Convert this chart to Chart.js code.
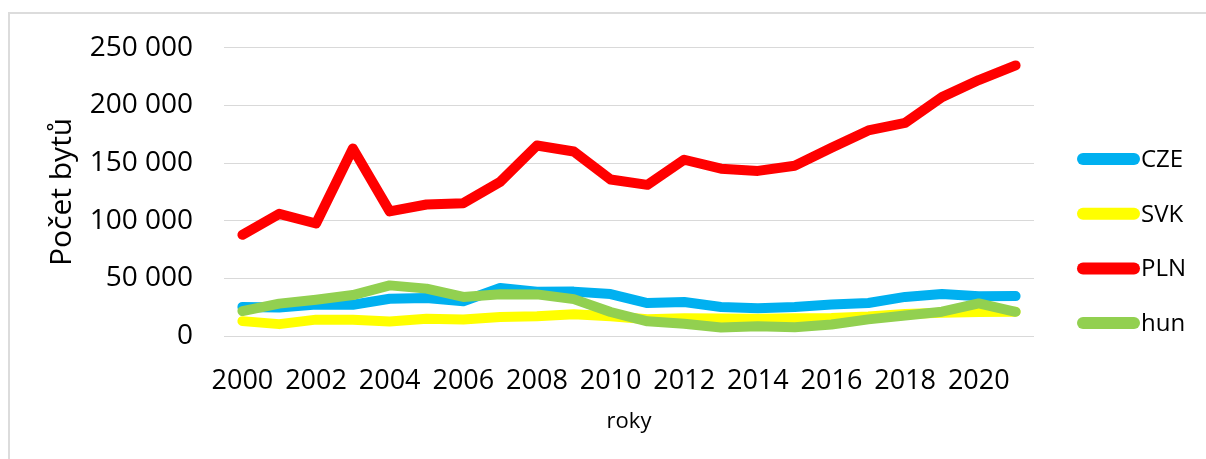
<!DOCTYPE html>
<html lang="cs">
<head>
<meta charset="utf-8">
<script src="https://cdn.jsdelivr.net/npm/chart.js@4"></script>
<style>
    body { margin: 0; background: #fff; }
    #ram { position: absolute; left: 8px; top: 12px; width: 1220px; height: 470px; border: 2px solid #dcdcdc; }
    #graf { position: absolute; left: 0; top: 0; }
</style>
</head>
<body>
<div id="ram"></div>
<canvas id="graf" width="1206" height="459"></canvas>
<script>
const roky = ['2000', '2001', '2002', '2003', '2004', '2005', '2006', '2007', '2008', '2009', '2010',
    '2011', '2012', '2013', '2014', '2015', '2016', '2017', '2018', '2019', '2020', '2021'];

const cze = [25200, 24800, 27300, 27100, 32300, 32900, 30200, 41600, 38400, 38500, 36400,
    28600, 29500, 25200, 24000, 25100, 27300, 28600, 33900, 36400, 34400, 34600];
const svk = [12900, 10300, 14200, 14000, 12600, 14900, 14400, 16500, 17200, 18800, 17100,
    14600, 15500, 15100, 15000, 15500, 15700, 17000, 19100, 20200, 20900, 21000];
const pln = [87800, 106000, 97600, 162700, 108100, 114100, 115200, 133700, 165200, 160000, 135800,
    131100, 152900, 145100, 143200, 147700, 163300, 178300, 184800, 207200, 222000, 234700];
const hun = [21600, 28100, 31500, 35500, 43900, 41100, 33900, 36200, 36100, 32000, 20800,
    12700, 10600, 7300, 8400, 7600, 10000, 14400, 17700, 21100, 28200, 21000];

const osaY = [0, 50000, 100000, 150000, 200000, 250000];

const pismo = "'Open Sans', sans-serif";

function serie(nazev, data, barva, poradi) {
    return {
        label: nazev,
        data: data,
        borderColor: barva,
        backgroundColor: barva,
        borderWidth: 10,
        borderCapStyle: 'round',
        borderJoinStyle: 'round',
        pointRadius: 0,
        pointHoverRadius: 0,
        tension: 0,
        order: poradi
    };
}

// legenda vpravo - caru a text kreslime sami, aby text sedel hned za carou
const legendaVpravo = {
    id: 'legendaVpravo',
    afterDraw(chart) {
        const c = chart.ctx;
        const x0 = chart.chartArea.right + 49;
        c.save();
        c.font = '24px ' + pismo;
        c.textBaseline = 'middle';
        chart.data.datasets.forEach((ds, i) => {
            const y = 159 + i * 54.7;
            c.strokeStyle = ds.borderColor;
            c.lineWidth = 12;
            c.lineCap = 'round';
            c.beginPath();
            c.moveTo(x0, y);
            c.lineTo(x0 + 51, y);
            c.stroke();
            c.fillStyle = '#000';
            c.fillText(ds.label, x0 + 58, y + 1);
        });
        c.restore();
    }
};

const ctx = document.getElementById('graf').getContext('2d');
new Chart(ctx, {
    type: 'line',
    data: {
        labels: roky,
        datasets: [
            serie('CZE', cze, '#00b0f0', 4),
            serie('SVK', svk, '#ffff00', 3),
            serie('PLN', pln, '#ff0000', 2),
            serie('hun', hun, '#92d050', 1)
        ]
    },
    options: {
        responsive: false,
        animation: false,
        devicePixelRatio: 1,
        layout: {
            padding: { left: 40, top: 46, right: 172, bottom: 0 }
        },
        plugins: {
            legend: { display: false },
            tooltip: { enabled: false }
        },
        scales: {
            x: {
                offset: true,
                grid: { display: false, drawTicks: false },
                border: { display: false },
                ticks: {
                    autoSkip: false,
                    maxRotation: 0,
                    padding: 29,
                    color: '#000',
                    font: { family: pismo, size: 27 },
                    callback: function (value, index) {
                        return index % 2 === 0 ? roky[index] : '';
                    }
                },
                title: {
                    display: true,
                    text: 'roky',
                    color: '#000',
                    font: { family: pismo, size: 22 },
                    padding: { top: 24, bottom: 24 }
                },
                afterFit: function (scale) {
                    scale.height = 123;
                }
            },
            y: {
                min: 0,
                max: 250000,
                afterBuildTicks: function (scale) {
                    scale.ticks = osaY.map(v => ({ value: v }));
                },
                grid: { color: '#d9d9d9', lineWidth: 1, drawTicks: false },
                border: { display: false },
                ticks: {
                    padding: 31,
                    color: '#000',
                    font: { family: pismo, size: 28 },
                    callback: function (value) {
                        return String(value).replace(/\B(?=(\d{3})+(?!\d))/g, ' ');
                    }
                },
                title: {
                    display: true,
                    text: 'Počet bytů',
                    color: '#000',
                    font: { family: pismo, size: 30 },
                    padding: 4
                },
                afterFit: function (scale) {
                    scale.width = 184;
                }
            }
        }
    },
    plugins: [legendaVpravo]
});
</script>
</body>
</html>
